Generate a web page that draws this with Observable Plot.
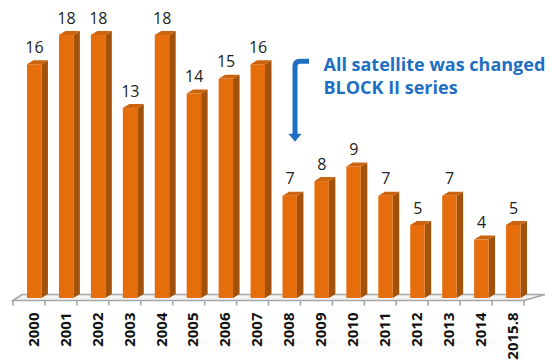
<!DOCTYPE html>
<html>
<head>
<meta charset="utf-8">
<script src="https://cdn.jsdelivr.net/npm/d3@7"></script>
<script src="https://cdn.jsdelivr.net/npm/@observablehq/plot@0.6"></script>
<style>
  html, body { margin: 0; padding: 0; background: #fff; }
  #chart { width: 552px; height: 361px; overflow: hidden; }
</style>
</head>
<body>
<div id="chart"></div>
<script>
// ---- data ----
const years = ["2000","2001","2002","2003","2004","2005","2006","2007","2008","2009","2010","2011","2012","2013","2014","2015.8"];
const counts = [16,18,18,13,18,14,15,16,7,8,9,7,5,7,4,5];
const annotationText = "All satellite was changed\nBLOCK II series";
const annotationYear = "2008";
const annotationY = 15.3;     // vertical centre of the text block (value units)
const arrowTop = 16.2;        // arrow start (value units)
const arrowTip = 10.7;        // arrow tip (value units)

const data = years.map((year, i) => ({year, count: counts[i]}));

// ---- styles ----
const FRONT = "#E56D0C", SIDE = "#A3520B", TOP = "#CC630E";
const BLUE = "#1E6FC3";
const insetL = 14, insetR = 3.5, depthX = 6.5, depthY = -4;

function bw(scales) { return scales.x(years[1]) - scales.x(years[0]); }

// floor (3D ground plane) with tick marks at category boundaries
function floor(index, scales, values, dims) {
  const g = d3.create("svg:g");
  const x0 = dims.marginLeft, x1 = dims.width - dims.marginRight;
  const yf = scales.y(0) + 2.5, yb = scales.y(0) - 3.5;
  g.append("path")
    .attr("d", `M${x0},${yf}L${x1},${yf}L${x1 + 21},${yb}L${x0 + 9},${yb}Z`)
    .attr("fill", "#F3F3F3").attr("stroke", "#A6A6A6").attr("stroke-width", 1.6);
  const w = bw(scales);
  const bounds = years.map(y => scales.x(y)).concat([scales.x(years[years.length - 1]) + w]);
  bounds.forEach(b => {
    g.append("line").attr("x1", b).attr("x2", b).attr("y1", yf).attr("y2", yf + 5)
      .attr("stroke", "#A6A6A6").attr("stroke-width", 1.6);
  });
  return g.node();
}

// side and top faces of the bars
function faces(index, scales, values, dims) {
  const g = d3.create("svg:g");
  const w = bw(scales);
  data.forEach(d => {
    const xa = scales.x(d.year) + insetL, xb = scales.x(d.year) + w - insetR;
    const yt = scales.y(d.count), yb = scales.y(0);
    g.append("path")
      .attr("d", `M${xb},${yt}L${xb + depthX},${yt + depthY}L${xb + depthX},${yb + depthY}L${xb},${yb}Z`)
      .attr("fill", SIDE);
    g.append("path")
      .attr("d", `M${xa},${yt}L${xa + depthX},${yt + depthY}L${xb + depthX},${yt + depthY}L${xb},${yt}Z`)
      .attr("fill", TOP);
  });
  return g.node();
}

// annotation arrow
function arrow(index, scales, values, dims) {
  const g = d3.create("svg:g");
  const xa = scales.x(annotationYear) + 26.5;
  const yt = scales.y(arrowTop), yp = scales.y(arrowTip);
  g.append("path")
    .attr("d", `M${xa + 14},${yt}L${xa + 5},${yt}Q${xa},${yt} ${xa},${yt + 5}L${xa},${yp - 6}`)
    .attr("fill", "none").attr("stroke", BLUE).attr("stroke-width", 5);
  g.append("path")
    .attr("d", `M${xa - 6.5},${yp - 8}L${xa + 6.5},${yp - 8}L${xa},${yp}Z`)
    .attr("fill", BLUE);
  return g.node();
}

const chart = Plot.plot({
  width: 552,
  height: 361,
  marginLeft: 13,
  marginRight: 28,
  marginTop: 35,
  marginBottom: 63,
  style: {fontFamily: "'Open Sans', sans-serif", background: "#fff", overflow: "visible"},
  x: {type: "band", domain: years, padding: 0, round: false, label: null},
  y: {domain: [0, 18], axis: null},
  marks: [
    floor,
    faces,
    Plot.barY(data, {x: "year", y: "count", fill: FRONT, insetLeft: insetL, insetRight: insetR}),
    Plot.text(data, {x: "year", y: "count", text: d => String(d.count), dy: -17, dx: 5,
      fontSize: 16, fill: "#222"}),
    Plot.axisX({tickRotate: -90, tickSize: 0, tickPadding: 14, dx: 4.5, fontSize: 15,
      fontWeight: "bold", fill: "#111", label: null}),
    Plot.text([{year: annotationYear, y: annotationY}], {x: "year", y: "y", text: () => annotationText,
      textAnchor: "start", dx: 38.5, fontSize: 18, fontWeight: "bold", fill: BLUE, lineHeight: 1.28}),
    arrow
  ]
});
document.getElementById("chart").appendChild(chart);
</script>
</body>
</html>
